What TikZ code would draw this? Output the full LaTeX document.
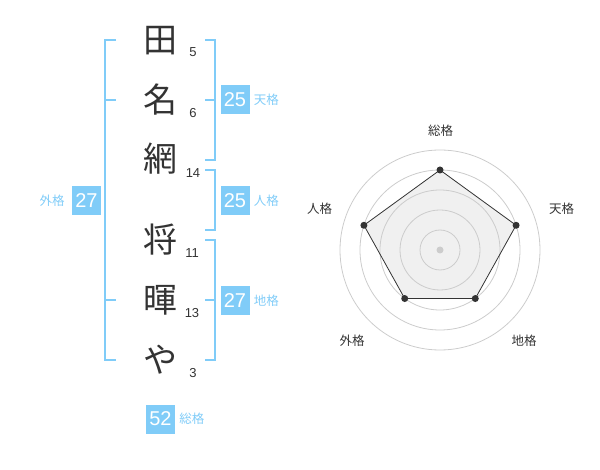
\documentclass[tikz,border=0pt]{standalone}
\usepackage{fontspec}
\usetikzlibrary{calc}
\setmainfont{Liberation Sans}
\newfontfamily\jp{Noto Sans CJK JP}
\definecolor{kblue}{HTML}{80CCF8}
\definecolor{ink}{HTML}{333333}
\definecolor{ring}{HTML}{CCCCCC}
\definecolor{areafill}{HTML}{F0F0F0}
\tikzset{
  kanji/.style={text=ink, font=\jp\fontsize{34}{34}\selectfont, inner sep=0pt},
  strokes/.style={text=ink, font=\fontsize{13}{13}\selectfont, inner sep=0pt},
  bracket/.style={draw=kblue, line width=2pt},
  valbox/.style={fill=kblue, text=white, minimum width=29pt, minimum height=29pt, inner sep=0pt, font=\fontsize{20}{20}\selectfont},
  vallabel/.style={text=kblue, font=\jp\fontsize{12.5}{12.5}\selectfont, inner sep=0pt},
  radarlabel/.style={text=ink, font=\jp\fontsize{12.5}{12.5}\selectfont, inner sep=0pt},
  ringline/.style={draw=ring, line width=0.8pt},
  vdot/.style={circle, fill=ink, minimum size=7pt, inner sep=0pt},
}
\begin{document}
\begin{tikzpicture}[x=1pt,y=-1pt]
\useasboundingbox (0,0) rectangle (600,470);
% name characters
\node[kanji] (c1) at (160,41) {田};
\node[kanji] (c2) at (160,100) {名};
\node[kanji] (c3) at (160,159) {網};
\node[kanji] (c4) at (160,240) {将};
\node[kanji] (c5) at (160,300) {暉};
\node[kanji] (c6) at (160,360) {や};
% stroke counts
\node[strokes] (s1) at (193,52) {5};
\node[strokes] (s2) at (193,113) {6};
\node[strokes] (s3) at (193,173) {14};
\node[strokes] (s4) at (192,253) {11};
\node[strokes] (s5) at (192,313) {13};
\node[strokes] (s6) at (193,373) {3};
% outer bracket (gaikaku)
\draw[bracket] (116,40) -- (105,40) -- (105,360) -- (116,360);
\draw[bracket] (105,100) -- (116,100);
\draw[bracket] (105,300) -- (116,300);
% tenkaku bracket
\draw[bracket] (205,40) -- (215,40) -- (215,160) -- (205,160);
\draw[bracket] (205,100) -- (215,100);
% jinkaku bracket
\draw[bracket] (205,170) -- (215,170) -- (215,230) -- (205,230);
% chikaku bracket
\draw[bracket] (205,240) -- (215,240) -- (215,360) -- (205,360);
\draw[bracket] (205,300) -- (215,300);
% value boxes
\node[valbox] (v1) at (235,100) {25};
\node[vallabel, anchor=west] (l1) at ([xshift=4pt]v1.east) {天格};
\node[valbox] (v2) at (235,200.5) {25};
\node[vallabel, anchor=west] (l2) at ([xshift=4pt]v2.east) {人格};
\node[valbox] (v3) at (235,300.5) {27};
\node[vallabel, anchor=west] (l3) at ([xshift=4pt]v3.east) {地格};
\node[valbox] (v4) at (86.5,200.5) {27};
\node[vallabel, anchor=east] (l4) at ([xshift=-7pt]v4.west) {外格};
\node[valbox] (v5) at (160.5,419) {52};
\node[vallabel, anchor=west] (l5) at ([xshift=4pt]v5.east) {総格};
% radar chart (y axis points down, so angles are mirrored)
\coordinate (ctr) at (440,250);
\coordinate (p1) at ($(ctr)+(-90:80)$);
\coordinate (p2) at ($(ctr)+(-18:80)$);
\coordinate (p3) at ($(ctr)+(54:60)$);
\coordinate (p4) at ($(ctr)+(126:60)$);
\coordinate (p5) at ($(ctr)+(198:80)$);
\fill[areafill] (p1) -- (p2) -- (p3) -- (p4) -- (p5) -- cycle;
\foreach \r in {20,40,60,80,100} \draw[ringline] (ctr) circle[radius=\r];
\draw[ink, line width=0.8pt, line join=round] (p1) -- (p2) -- (p3) -- (p4) -- (p5) -- cycle;
\fill[ring] (ctr) circle[radius=3.5];
\foreach \p in {p1,p2,p3,p4,p5} \node[vdot] at (\p) {};
\node[radarlabel] (r1) at (440.5,131) {総格};
\node[radarlabel] (r2) at (561.5,208.5) {天格};
\node[radarlabel] (r3) at (524,341) {地格};
\node[radarlabel] (r4) at (352,341) {外格};
\node[radarlabel] (r5) at (319.5,208.5) {人格};
\end{tikzpicture}
\end{document}
